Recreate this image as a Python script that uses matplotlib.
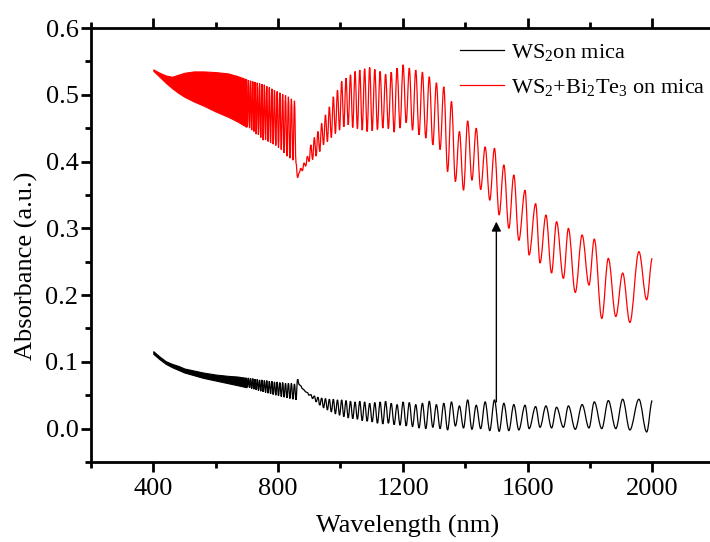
import matplotlib.pyplot as plt
from matplotlib.path import Path
from matplotlib.patches import PathPatch
from matplotlib.ticker import MultipleLocator

# short-wavelength part: fringes too dense to resolve, read as an envelope band
band_nm = [400, 420, 440, 460, 480, 500, 530, 560, 600, 640, 670, 698.7]
red_band_hi = [0.538, 0.533, 0.529, 0.527, 0.530, 0.533, 0.535, 0.535, 0.534, 0.532, 0.528, 0.523]
red_band_lo = [0.536, 0.527, 0.518, 0.510, 0.503, 0.497, 0.490, 0.484, 0.475, 0.467, 0.460, 0.452]
black_band_hi = [0.116, 0.108, 0.101, 0.097, 0.094, 0.090, 0.087, 0.084, 0.081, 0.079, 0.078, 0.076]
black_band_lo = [0.112, 0.104, 0.097, 0.092, 0.088, 0.084, 0.080, 0.076, 0.072, 0.068, 0.065, 0.062]

# fringe extrema (peaks / troughs)
fringe_nm = [
    698.7, 702.0, 705.4, 708.8, 712.2, 715.7, 719.2, 722.7, 726.3, 729.9,
    733.5, 737.2, 740.9, 744.7, 748.5, 752.3, 756.2, 760.1, 764.0, 768.0,
    772.1, 776.1, 780.3, 784.4, 788.6, 792.9, 797.2, 801.5, 805.9, 810.4,
    814.9, 819.4, 824.0, 828.6, 833.3, 838.1, 842.9, 847.8, 852.7, 857.6,
    862.7, 867.8, 872.9, 878.1, 883.4, 888.8, 894.2, 899.6, 905.2, 910.8,
    916.5, 922.2, 928.0, 933.9, 939.9, 945.9, 952.1, 958.3, 964.6, 970.9,
    977.4, 983.9, 990.6, 997.3, 1004.1, 1011.0, 1018.0, 1025.1, 1032.3, 1039.6,
    1047.0, 1054.5, 1062.1, 1069.9, 1077.7, 1085.7, 1093.8, 1101.9, 1110.3, 1118.7,
    1127.3, 1136.0, 1144.9, 1153.8, 1163.0, 1172.2, 1181.7, 1191.2, 1201.0, 1210.9,
    1220.9, 1231.2, 1241.6, 1252.1, 1262.9, 1273.8, 1285.0, 1296.3, 1307.8, 1319.6,
    1331.5, 1343.7, 1356.1, 1368.7, 1381.6, 1394.7, 1408.0, 1421.7, 1435.5, 1449.7,
    1464.1, 1478.9, 1493.9, 1509, 1524, 1540, 1556, 1572, 1592, 1605,
    1626, 1640, 1659, 1677, 1693, 1715, 1731, 1753, 1775, 1797,
    1814, 1838, 1859, 1883, 1905, 1928, 1957, 1982, 2000]

red_fringe = [
    0.523, 0.452, 0.522, 0.450, 0.521, 0.447, 0.520, 0.445, 0.519, 0.441,
    0.518, 0.440, 0.517, 0.436, 0.516, 0.432, 0.515, 0.433, 0.513, 0.430,
    0.511, 0.428, 0.509, 0.426, 0.507, 0.424, 0.505, 0.421, 0.503, 0.418,
    0.501, 0.413, 0.499, 0.408, 0.497, 0.405, 0.494, 0.402, 0.491, 0.398,
    0.376, 0.383, 0.390, 0.386, 0.398, 0.393, 0.408, 0.400, 0.425, 0.403,
    0.436, 0.408, 0.445, 0.415, 0.457, 0.425, 0.470, 0.430, 0.482, 0.436,
    0.497, 0.442, 0.507, 0.447, 0.520, 0.452, 0.525, 0.455, 0.530, 0.451,
    0.535, 0.449, 0.537, 0.447, 0.539, 0.445, 0.541, 0.446, 0.538, 0.448,
    0.535, 0.450, 0.531, 0.449, 0.534, 0.444, 0.540, 0.450, 0.545, 0.458,
    0.540, 0.447, 0.537, 0.440, 0.534, 0.435, 0.527, 0.425, 0.518, 0.418,
    0.512, 0.385, 0.490, 0.370, 0.445, 0.357, 0.461, 0.372, 0.450, 0.358,
    0.422, 0.342, 0.420, 0.320, 0.395, 0.300, 0.380, 0.282, 0.357, 0.260,
    0.337, 0.248, 0.320, 0.233, 0.310, 0.225, 0.300, 0.204, 0.290, 0.215,
    0.284, 0.165, 0.255, 0.168, 0.233, 0.159, 0.265, 0.193, 0.255]

black_fringe = [
    0.076, 0.062, 0.076, 0.061, 0.075, 0.060, 0.075, 0.059, 0.074, 0.058,
    0.074, 0.057, 0.073, 0.056, 0.073, 0.055, 0.072, 0.054, 0.072, 0.053,
    0.071, 0.052, 0.071, 0.051, 0.070, 0.050, 0.070, 0.049, 0.069, 0.048,
    0.069, 0.047, 0.068, 0.046, 0.068, 0.045, 0.068, 0.044, 0.067, 0.043,
    0.074, 0.066, 0.064, 0.060, 0.058, 0.055, 0.054, 0.050, 0.051, 0.045,
    0.049, 0.040, 0.047, 0.035, 0.046, 0.031, 0.045, 0.028, 0.044, 0.025,
    0.044, 0.022, 0.043, 0.020, 0.043, 0.018, 0.042, 0.016, 0.041, 0.015,
    0.040, 0.014, 0.041, 0.012, 0.040, 0.011, 0.038, 0.010, 0.039, 0.008,
    0.040, 0.007, 0.041, 0.008, 0.038, 0.006, 0.036, 0.005, 0.040, 0.004,
    0.039, 0.003, 0.036, 0.001, 0.038, 0.000, 0.041, 0.002, 0.036, 0.000,
    0.038, -0.002, 0.040, 0.004, 0.034, 0.001, 0.043, -0.001, 0.035, 0.000,
    0.040, -0.003, 0.043, -0.004, 0.038, -0.003, 0.036, -0.002, 0.035, 0.000,
    0.033, 0.002, 0.034, 0.001, 0.032, 0.002, 0.034, -0.001, 0.036, 0.001,
    0.040, 0.000, 0.042, 0.000, 0.044, -0.002, 0.044, -0.005, 0.042]

labels = [r"WS$_{2}$on mica", r"WS$_{2}$+Bi$_{2}$Te$_{3}$ on mica"]
colors = ["black", "red"]


def fringe_path(xs, ys):
    # join neighbouring extrema with flat-tangent cubic segments (sine-like)
    verts = [(xs[0], ys[0])]
    codes = [Path.MOVETO]
    for x0, y0, x1, y1 in zip(xs[:-1], ys[:-1], xs[1:], ys[1:]):
        d = (x1 - x0) * 0.36
        verts += [(x0 + d, y0), (x1 - d, y1), (x1, y1)]
        codes += [Path.CURVE4] * 3
    return Path(verts, codes)


plt.rcParams["font.family"] = "Liberation Serif"
plt.rcParams["mathtext.fontset"] = "custom"
plt.rcParams["mathtext.rm"] = "Liberation Serif"

fig = plt.figure(figsize=(7.1, 5.42), dpi=100)
ax = fig.add_axes([0.128, 0.1476, 0.8786, 0.8007])

ax.fill_between(band_nm, black_band_lo, black_band_hi, color="black", lw=0.8)
ax.fill_between(band_nm, red_band_lo, red_band_hi, color="red", lw=0.8)
for ys, c, lab in zip([black_fringe, red_fringe], colors, labels):
    ax.add_patch(PathPatch(fringe_path(fringe_nm, ys), fill=False,
                           edgecolor=c, lw=0.9))
    ax.plot([], [], color=c, lw=0.9, label=lab)

ax.annotate("", xy=(1500, 0.31), xytext=(1500, 0.04),
            arrowprops=dict(arrowstyle="-|>", color="black", lw=1.0,
                            mutation_scale=14, shrinkA=0, shrinkB=0))

ax.set_xlim(200, 2200)
ax.set_ylim(-0.05, 0.6)
ax.xaxis.set_major_locator(MultipleLocator(400))
ax.xaxis.set_minor_locator(MultipleLocator(200))
ax.yaxis.set_major_locator(MultipleLocator(0.1))
ax.yaxis.set_minor_locator(MultipleLocator(0.05))
ax.yaxis.set_major_formatter(plt.FormatStrFormatter("%.1f"))

for s in ax.spines.values():
    s.set_linewidth(2)
ax.tick_params(which="both", direction="out", width=2, top=True, right=True,
               labelsize=19)
ax.tick_params(which="major", length=7.5)
ax.tick_params(which="minor", length=4.5)
ax.tick_params(axis="x", pad=4)
ax.tick_params(axis="y", pad=1.5)

ax.set_xlabel("Wavelength (nm)", fontsize=19)
ax.set_ylabel("Absorbance (a.u.)", fontsize=19)
ax.xaxis.set_label_coords(0.5075, -0.122)
ax.yaxis.set_label_coords(-0.085, 0.452)

ax.legend(loc="upper left", bbox_to_anchor=(460 / 710, 1 - 42 / 542),
          bbox_transform=fig.transFigure, frameon=False, fontsize=16,
          handlelength=2.0, handletextpad=0.3, borderpad=0,
          borderaxespad=0, labelspacing=0.6)

fig.savefig("out.png", dpi=100)
